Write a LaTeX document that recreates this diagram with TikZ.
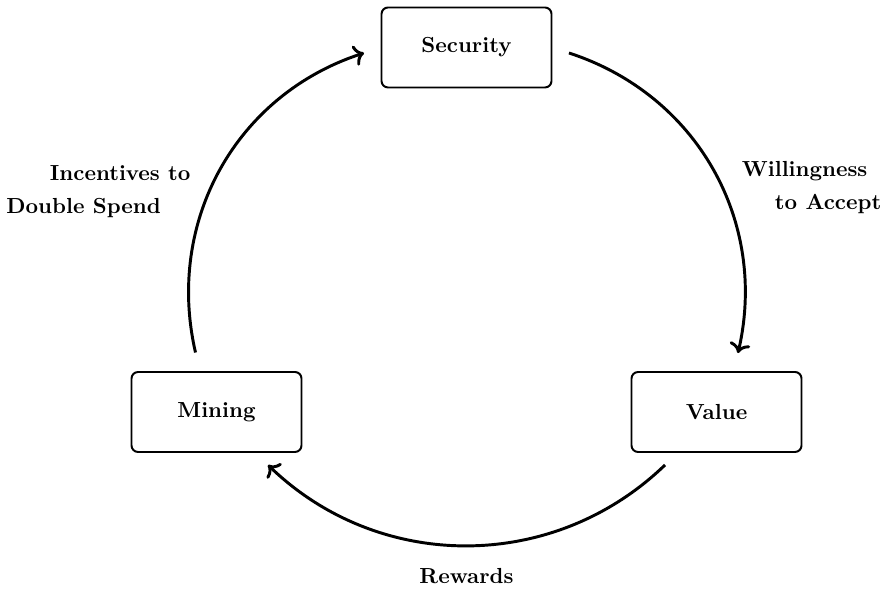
\documentclass[tikz,border=0pt]{standalone}
\usetikzlibrary{arrows.meta}
\begin{document}
\begin{tikzpicture}[x=0.4587pt,y=0.4587pt,
  box/.style={draw, line width=0.9pt, rounded corners=3pt, minimum width=77.98pt, minimum height=36.7pt, inner sep=0pt, font=\bfseries},
  lbl/.style={inner sep=0pt, anchor=base west, font=\bfseries},
  arr/.style={line width=1.35pt, ->}]
\useasboundingbox (0,0) rectangle (887,589);
\node[box] (security) at (466.5,541.5) {Security};
\node[box] (mining) at (216.5,177) {Mining};
\node[box] (value) at (716.5,177) {Value};

\draw[arr] ([shift={(-21,18.5)}]mining.north) to[out=103,in=198] ([shift={(-16.5,-5.5)}]security.west);
\draw[arr] ([shift={(16.5,-5.5)}]security.east) to[out=-18,in=77] ([shift={(21.5,18)}]value.north);
\draw[arr] ([shift={(-51.5,-12)}]value.south) to[out=224,in=-44] ([shift={(51.5,-12)}]mining.south);

\node[lbl] (inc1) at (49.5,408.3) {Incentives to};
\node[lbl] (inc2) at (6,375.7) {Double Spend};
\node[lbl] (wil1) at (741.5,412.3) {Willingness};
\node[lbl] (wil2) at (774.5,379.7) {to Accept};
\node[lbl, anchor=base] (rew) at (466.5,5.5) {Rewards};
\end{tikzpicture}
\end{document}
